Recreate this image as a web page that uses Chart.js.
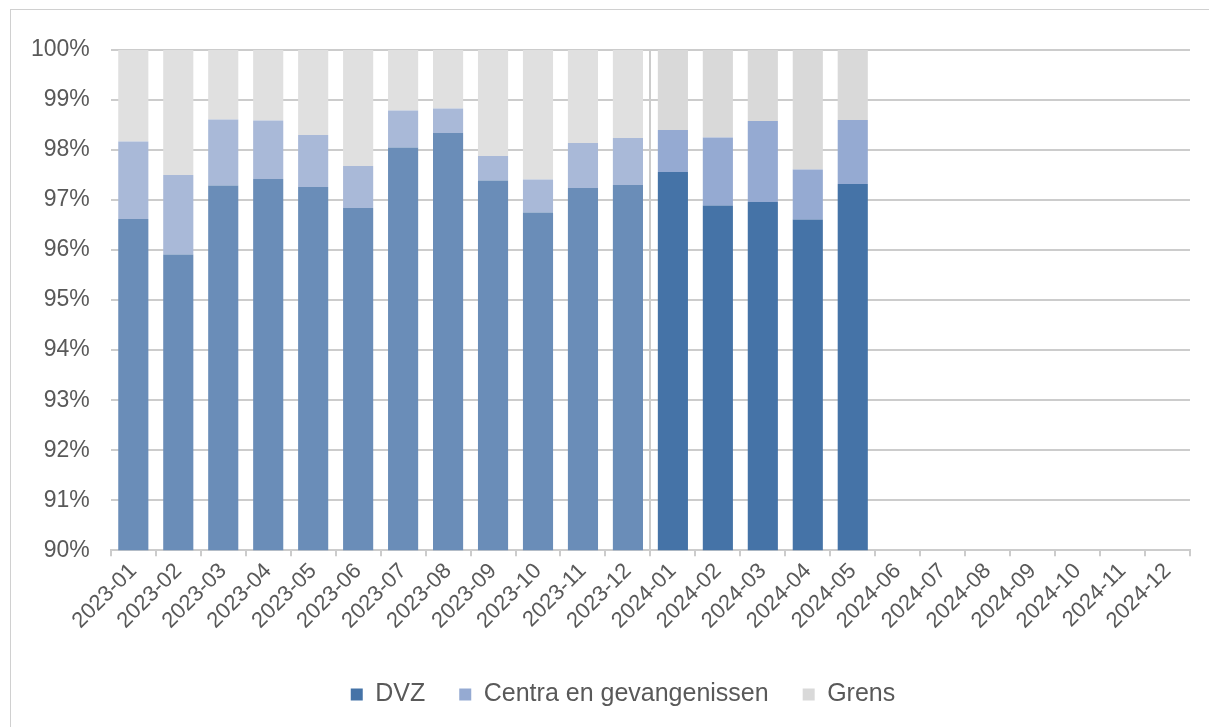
<!DOCTYPE html>
<html>
<head>
<meta charset="utf-8">
<script src="https://cdn.jsdelivr.net/npm/chart.js@4"></script>
<style>
  html, body { margin: 0; padding: 0; background: #fff; }
  #frame { position: absolute; left: 10px; top: 9px; width: 1300px; height: 800px; border: 1px solid #d0d0d0; }
  #wrap { position: absolute; left: 0; top: 0; width: 1209px; height: 727px; }
</style>
</head>
<body>
<div id="frame"></div>
<div id="wrap"><canvas id="myChart" width="1209" height="727"></canvas></div>
<script>
// maanden
const maanden = ['2023-01','2023-02','2023-03','2023-04','2023-05','2023-06','2023-07','2023-08','2023-09','2023-10','2023-11','2023-12',
  '2024-01','2024-02','2024-03','2024-04','2024-05','2024-06','2024-07','2024-08','2024-09','2024-10','2024-11','2024-12'];

// aandeel DVZ (%)
const dvz = [96.62, 95.91, 97.29, 97.42, 97.26, 96.84, 98.05, 98.34, 97.39, 96.75, 97.24, 97.30,
  97.56, 96.89, 96.96, 96.61, 97.32];
// aandeel centra en gevangenissen (%)
const centra = [1.55, 1.59, 1.32, 1.17, 1.04, 0.84, 0.74, 0.49, 0.49, 0.66, 0.90, 0.94,
  0.84, 1.36, 1.62, 1.00, 1.28];
// aandeel grens (%)
const grens = [1.83, 2.50, 1.39, 1.41, 1.70, 2.32, 1.21, 1.17, 2.12, 2.59, 1.86, 1.76,
  1.60, 1.75, 1.42, 2.39, 1.40];

const yTicks = [90, 91, 92, 93, 94, 95, 96, 97, 98, 99, 100];

// 2023 lichter, 2024 donkerder
const kleur = (licht, donker) => maanden.map((m, i) => i < 12 ? licht : donker);

const fontNaam = "'Liberation Sans', Arial, sans-serif";
const tekst = '#595959';
const lijn = '#cccccc';

// legende iets naar rechts, zoals in het origineel
const legendeSchuif = {
  id: 'legendeSchuif',
  afterLayout(chart) {
    chart.legend.left += 23;
    chart.legend.right += 23;
  }
};

const ctx = document.getElementById('myChart').getContext('2d');
const myChart = new Chart(ctx, {
  type: 'bar',
  data: {
    labels: maanden,
    datasets: [
      { label: 'DVZ', data: dvz, backgroundColor: kleur('#6a8db8', '#4573a7') },
      { label: 'Centra en gevangenissen', data: centra, backgroundColor: kleur('#a9b9d8', '#95aad2') },
      { label: 'Grens', data: grens, backgroundColor: kleur('#e0e0e0', '#d9d9d9') }
    ]
  },
  plugins: [legendeSchuif],
  options: {
    responsive: false,
    maintainAspectRatio: false,
    animation: false,
    layout: { padding: { left: 10, right: 19, top: 50, bottom: 10 } },
    datasets: { bar: { barPercentage: 0.67, categoryPercentage: 1 } },
    plugins: {
      tooltip: { enabled: false },
      legend: {
        position: 'bottom',
        labels: {
          boxWidth: 12, boxHeight: 12, padding: 34,
          color: tekst, font: { family: fontNaam, size: 25 },
          // legende toont de donkere (2024) kleur
          generateLabels: chart => Chart.defaults.plugins.legend.labels.generateLabels(chart).map(l => {
            const c = chart.data.datasets[l.datasetIndex].backgroundColor[12];
            return Object.assign(l, { fillStyle: c, strokeStyle: c, lineWidth: 0 });
          })
        }
      }
    },
    scales: {
      x: {
        stacked: true,
        afterFit: s => { s.height += 12; },
        grid: {
          offset: true,
          color: c => c.index === 12 ? lijn : 'rgba(0,0,0,0)',
          lineWidth: 2,
          tickColor: lijn,
          tickLength: 6
        },
        border: { color: lijn, width: 2 },
        ticks: {
          color: tekst, font: { family: fontNaam, size: 22 },
          minRotation: 45, maxRotation: 45, padding: 2, autoSkip: false
        }
      },
      y: {
        stacked: true,
        min: 90, max: 100,
        afterBuildTicks: s => { s.ticks = yTicks.map(v => ({ value: v })); },
        grid: { color: lijn, lineWidth: 2, drawTicks: false },
        border: { display: false },
        ticks: {
          color: tekst, font: { family: fontNaam, size: 23 }, padding: 21,
          callback: v => v + '%'
        }
      }
    }
  }
});
</script>
</body>
</html>
